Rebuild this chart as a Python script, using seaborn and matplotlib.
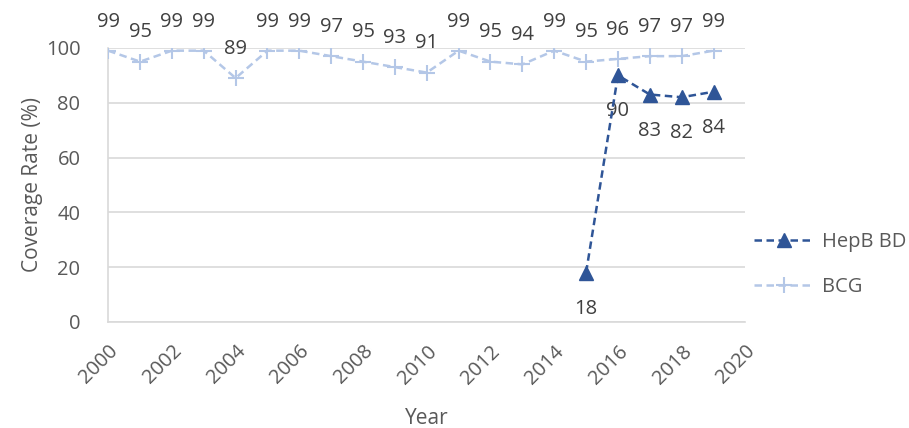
import matplotlib.pyplot as plt
import seaborn as sns
import pandas as pd

years = list(range(2000, 2020))
bcg = [99, 95, 99, 99, 89, 99, 99, 97, 95, 93, 91, 99, 95, 94, 99, 95, 96, 97, 97, 99]
hepb_years = [2015, 2016, 2017, 2018, 2019]
hepb = [18, 90, 83, 82, 84]

dark_blue = "#2F5597"
light_blue = "#B4C7E7"
text_grey = "#595959"

sns.set_style("white")
plt.rcParams["font.family"] = ["Open Sans", "DejaVu Sans"]

fig = plt.figure(figsize=(9.09, 4.28), dpi=100)
ax = fig.add_axes([0.119, 0.248, 0.701, 0.640])

df_bcg = pd.DataFrame({"Year": years, "Coverage": bcg})
df_hepb = pd.DataFrame({"Year": hepb_years, "Coverage": hepb})

sns.lineplot(data=df_hepb, x="Year", y="Coverage", ax=ax, color=dark_blue,
             linestyle=(0, (3, 1.8)), linewidth=1.8, marker="^", markersize=10,
             markeredgecolor=dark_blue, markeredgewidth=1, label="HepB BD", zorder=4)
sns.lineplot(data=df_bcg, x="Year", y="Coverage", ax=ax, color=light_blue,
             linestyle=(0, (3, 1.8)), linewidth=1.8, marker="+", markersize=11,
             markeredgecolor=light_blue, markeredgewidth=1.5, label="BCG", zorder=3)

for x, y in zip(years, bcg):
    ax.annotate(str(y), (x, y), xytext=(0, 21), textcoords="offset points",
                ha="center", va="center", fontsize=14.5, color="#404040")
for x, y in zip(hepb_years, hepb):
    ax.annotate(str(y), (x, y), xytext=(0, -26), textcoords="offset points",
                ha="center", va="center", fontsize=14.5, color="#404040")

ax.set_xlim(2000, 2020)
ax.set_ylim(0, 100)
ax.set_xticks(range(2000, 2021, 2))
ax.set_yticks(range(0, 101, 20))
ax.yaxis.grid(True, color="#D9D9D9", linewidth=1.2)
ax.set_axisbelow(True)
for s in ["top", "right"]:
    ax.spines[s].set_visible(False)
for s in ["left", "bottom"]:
    ax.spines[s].set_color("#D9D9D9")
    ax.spines[s].set_linewidth(1.2)

ax.tick_params(axis="both", length=0, labelsize=14.5, colors=text_grey)
ax.tick_params(axis="y", pad=20)
for lbl in ax.get_xticklabels():
    lbl.set_rotation(45)
    lbl.set_ha("right")
    lbl.set_va("top")
    lbl.set_rotation_mode("anchor")
ax.tick_params(axis="x", pad=14)

ax.set_xlabel("Year", fontsize=15, color=text_grey, labelpad=14)
ax.set_ylabel("Coverage Rate (%)", fontsize=15, color=text_grey, labelpad=2)

leg = ax.legend(loc="center left", bbox_to_anchor=(0.985, 0.21), frameon=False,
                fontsize=14.5, handlelength=3.0, handletextpad=0.4, labelspacing=1.25)
for t in leg.get_texts():
    t.set_color(text_grey)

fig.savefig("out.png", dpi=100)
